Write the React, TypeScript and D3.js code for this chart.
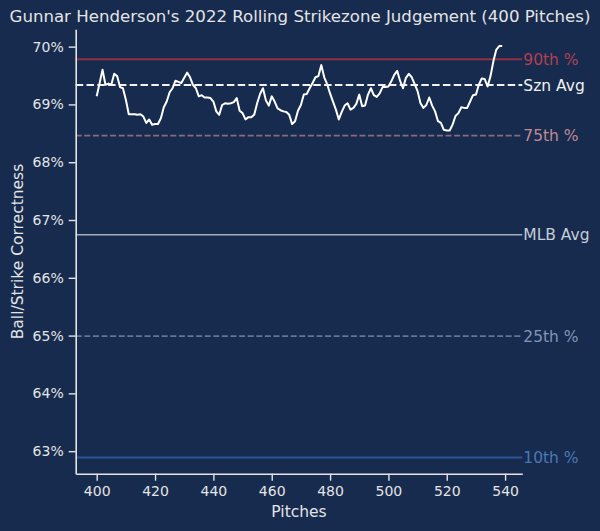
import { useEffect, useRef } from 'react';
import * as d3 from 'd3';

// rolling 400-pitch correctness, pitches 400..539
const startPitch = 400;
const rollingValues = [
  69.14, 69.37, 69.6, 69.34, 69.36, 69.34, 69.53, 69.49, 69.3, 69.28,
  69.08, 68.83, 68.83, 68.83, 68.82, 68.83, 68.79, 68.68, 68.74, 68.65,
  68.66, 68.66, 68.76, 68.95, 69.05, 69.21, 69.28, 69.41, 69.39, 69.37,
  69.46, 69.55, 69.47, 69.34, 69.28, 69.14, 69.16, 69.12, 69.12, 69.11,
  69.05, 68.88, 68.82, 68.99, 69.02, 69.01, 69.02, 69.04, 69.11, 68.89,
  68.85, 68.74, 68.78, 68.78, 68.82, 69.02, 69.18, 69.28, 69.07, 68.98,
  69.14, 69.05, 68.93, 68.9, 68.88, 68.87, 68.82, 68.66, 68.71, 68.89,
  68.99, 69.17, 69.18, 69.28, 69.37, 69.47, 69.49, 69.68, 69.47, 69.35,
  69.19, 69.05, 68.91, 68.74, 68.87, 68.98, 69.02, 68.91, 68.94, 69.01,
  69.17, 68.97, 68.98, 69.17, 69.28, 69.16, 69.13, 69.19, 69.3, 69.3,
  69.31, 69.4, 69.51, 69.58, 69.41, 69.28, 69.46, 69.53, 69.47, 69.35,
  69.23, 69.02, 68.94, 68.99, 69.12, 68.98, 68.88, 68.71, 68.68, 68.56,
  68.55, 68.55, 68.65, 68.8, 68.85, 68.95, 68.94, 68.94, 69.05, 69.16,
  69.17, 69.34, 69.45, 69.44, 69.31, 69.49, 69.75, 69.95, 70.01, 70.01,
];

const refNames = ['90th %', 'Szn Avg', '75th %', 'MLB Avg', '25th %', '10th %'];
const refValues = [69.78, 69.335, 68.46, 66.745, 64.99, 62.89];
const refLineColors = ['#923145', '#f2f2f2', '#8a6b7e', '#a5adba', '#61769a', '#2b5799'];
const refTextColors = ['#b2404f', '#f2f2f2', '#c08a92', '#c6ccd6', '#8096b9', '#4b78b5'];
const refDashed = [false, true, true, false, true, false];
const refWidths = [2, 2, 1.8, 1.6, 1.8, 2];

const xTicks = [400, 420, 440, 460, 480, 500, 520, 540];
const yTicks = [63, 64, 65, 66, 67, 68, 69, 70];

const title = "Gunnar Henderson's 2022 Rolling Strikezone Judgement (400 Pitches)";

export default function App() {
  const svgRef = useRef<SVGSVGElement>(null);

  useEffect(() => {
    document.body.style.margin = '0';
    if (!svgRef.current) return;

    const W = 600;
    const H = 531;
    const left = 75.7;
    const right = 522.3;
    const top = 29.3;
    const bottom = 473.7;
    const bg = '#172b4f';
    const fg = '#e4e4e4';
    const font = 'DejaVu Sans, sans-serif';

    const svg = d3.select(svgRef.current);
    svg.selectAll('*').remove();
    svg.attr('width', W).attr('height', H).style('display', 'block');

    svg.append('rect').attr('width', W).attr('height', H).attr('fill', bg);

    const x = d3.scaleLinear().domain([392.8, 545.9]).range([left, right]);
    const y = d3.scaleLinear().domain([62.61, 70.3]).range([bottom, top]);

    // reference lines
    refNames.forEach((name, i) => {
      svg
        .append('line')
        .attr('x1', left)
        .attr('x2', right)
        .attr('y1', y(refValues[i]))
        .attr('y2', y(refValues[i]))
        .attr('stroke', refLineColors[i])
        .attr('stroke-width', refWidths[i])
        .attr('stroke-dasharray', refDashed[i] ? (i === 1 ? '7.5,3.3' : '6,2.6') : null);

      svg
        .append('text')
        .attr('x', right + 1)
        .attr('y', y(refValues[i]))
        .attr('dy', '0.36em')
        .style('font-family', font)
        .style('font-size', '15.5px')
        .style('fill', refTextColors[i])
        .text(name);
    });

    // rolling line
    const line = d3
      .line<number>()
      .x((d, i) => x(startPitch + i))
      .y((d) => y(d));

    svg
      .append('path')
      .datum(rollingValues)
      .attr('d', line)
      .attr('fill', 'none')
      .attr('stroke', '#ffffff')
      .attr('stroke-width', 2)
      .attr('stroke-linejoin', 'round');

    // X axis
    const xAxis = svg
      .append('g')
      .attr('transform', `translate(0,${bottom})`)
      .call(d3.axisBottom(x).tickValues(xTicks).tickSize(7).tickPadding(5).tickSizeOuter(0));
    xAxis.select('.domain').attr('stroke', fg).attr('stroke-width', 1.6);
    xAxis.selectAll('.tick line').attr('stroke', fg).attr('stroke-width', 1.4);
    xAxis
      .selectAll('.tick text')
      .style('font-family', font)
      .style('font-size', '14px')
      .style('fill', fg);

    // Y axis
    const yAxis = svg
      .append('g')
      .attr('transform', `translate(${left},0)`)
      .call(
        d3
          .axisLeft(y)
          .tickValues(yTicks)
          .tickFormat((d) => `${d}%`)
          .tickSize(7)
          .tickPadding(5)
          .tickSizeOuter(0)
      );
    yAxis.select('.domain').attr('stroke', fg).attr('stroke-width', 1.6);
    yAxis.selectAll('.tick line').attr('stroke', fg).attr('stroke-width', 1.4);
    yAxis
      .selectAll('.tick text')
      .style('font-family', font)
      .style('font-size', '14px')
      .style('fill', fg);

    // axis labels
    svg
      .append('text')
      .attr('x', (left + right) / 2)
      .attr('y', 517)
      .attr('text-anchor', 'middle')
      .style('font-family', font)
      .style('font-size', '15.5px')
      .style('fill', fg)
      .text('Pitches');

    svg
      .append('text')
      .attr('transform', `translate(22.5,${(top + bottom) / 2}) rotate(-90)`)
      .attr('text-anchor', 'middle')
      .style('font-family', font)
      .style('font-size', '15.5px')
      .style('fill', fg)
      .text('Ball/Strike Correctness');

    // title
    svg
      .append('text')
      .attr('x', 300)
      .attr('y', 22)
      .attr('text-anchor', 'middle')
      .style('font-family', font)
      .style('font-size', '16.6px')
      .style('fill', fg)
      .text(title);
  }, []);

  return <svg ref={svgRef} />;
}
